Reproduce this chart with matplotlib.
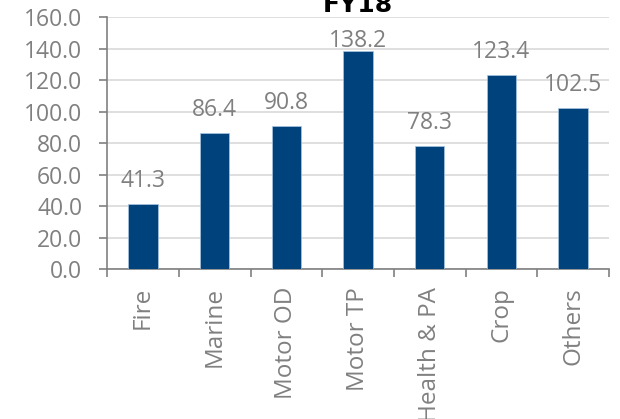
import matplotlib
matplotlib.use('Agg')
from matplotlib import pyplot as plt

categories = ['Fire', 'Marine', 'Motor OD', 'Motor TP', 'Health & PA', 'Crop', 'Others']
values = [41.3, 86.4, 90.8, 138.2, 78.3, 123.4, 102.5]
yticks = [0, 20, 40, 60, 80, 100, 120, 140, 160]

grey = '#808080'
plt.rcParams['font.family'] = ['Open Sans', 'DejaVu Sans']

fig = plt.figure(figsize=(6.2, 4.19), dpi=100)
ax = fig.add_axes([0.173, 0.358, 0.809, 0.601])

x = list(range(len(categories)))
ax.bar(x, values, width=0.41, color='#00427c', edgecolor='#a9c4e0', linewidth=0.5, zorder=3)

for xi, v in zip(x, values):
    # labels near the top get pulled down so they stay under the title
    off = 12 if v < 130 else 3
    ax.annotate('%.1f' % v, (xi, v), xytext=(0, off), textcoords='offset points',
                ha='center', va='baseline', fontsize=16.5, color=grey)

ax.set_xlim(-0.5, len(categories) - 0.5)
ax.set_ylim(0, 160)
ax.set_yticks(yticks)
ax.set_yticklabels(['%.1f' % t for t in yticks], fontsize=16.5, color=grey)
ax.yaxis.grid(True, color='#d9d9d9', linewidth=1.2, zorder=0)

# category labels sit between boundary ticks
ax.set_xticks([i - 0.5 for i in range(len(categories) + 1)])
ax.set_xticklabels([])
ax.set_xticks(x, minor=True)
ax.set_xticklabels(categories, minor=True, rotation=90, fontsize=17.5, color=grey)
ax.tick_params(axis='x', which='minor', length=0, pad=13)
ax.tick_params(axis='x', which='major', length=6, color=grey, width=1.2)
ax.tick_params(axis='y', length=6, color=grey, width=1.2, pad=12)

for s in ['top', 'right']:
    ax.spines[s].set_visible(False)
for s in ['left', 'bottom']:
    ax.spines[s].set_color(grey)
    ax.spines[s].set_linewidth(1.2)

ax.set_title('FY18', fontsize=18, fontweight='bold', family='DejaVu Sans', pad=0)

plt.savefig('out.png', dpi=100)
